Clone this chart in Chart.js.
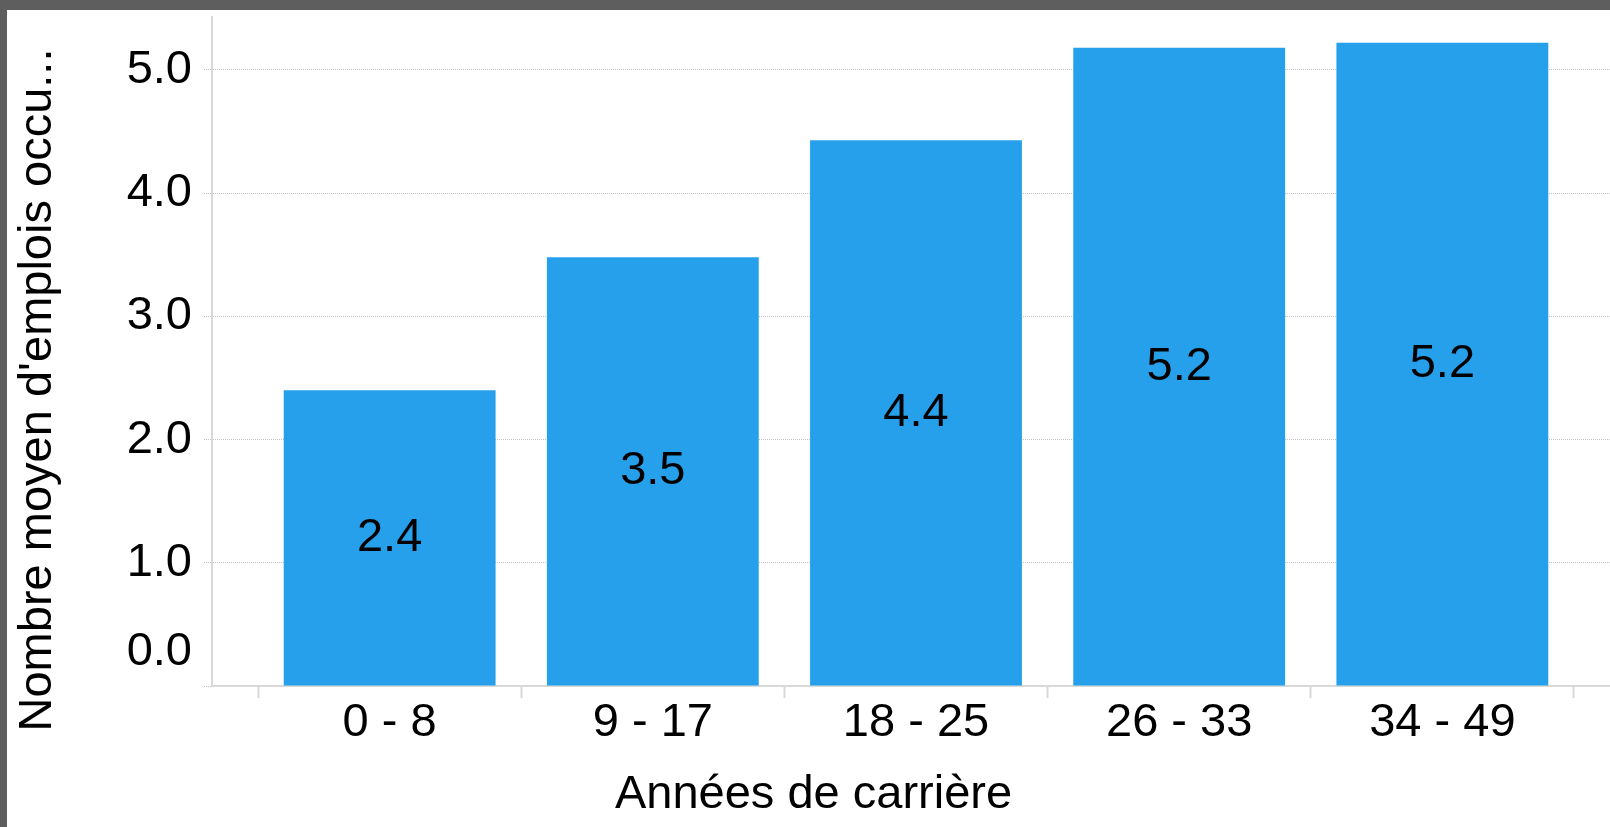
<!DOCTYPE html>
<html><head><meta charset="utf-8">
<script src="https://cdn.jsdelivr.net/npm/chart.js@4/dist/chart.umd.min.js"></script>
<style>
html,body{margin:0;padding:0;background:#5e5e5e;overflow:hidden;width:1610px;height:827px;}
#wrap{position:absolute;left:7px;top:10px;width:1618px;height:817px;background:#fff;}
canvas{display:block;}
</style></head><body>
<div id="wrap"><canvas id="c" width="1618" height="817"></canvas></div>
<script>
const categories = ['0 - 8', '9 - 17', '18 - 25', '26 - 33', '34 - 49'];
const values = [2.40, 3.48, 4.43, 5.18, 5.22];
const yTicks = [0, 1, 2, 3, 4, 5];
const yTitle = "Nombre moyen d'emplois occu...";
const xTitle = 'Années de carrière';

const FONT = '"Liberation Sans", Arial, sans-serif';
const SIZE = 47;

const customText = {
  id: 'customText',
  afterDatasetsDraw(chart) {
    const ctx = chart.ctx;
    const meta = chart.getDatasetMeta(0);
    ctx.save();
    ctx.font = SIZE + 'px ' + FONT;
    ctx.fillStyle = '#000';
    ctx.textAlign = 'center';
    ctx.textBaseline = 'middle';
    meta.data.forEach((bar, i) => {
      const p = bar.getCenterPoint();
      ctx.fillText(values[i].toFixed(1), p.x, p.y);
    });
    ctx.restore();
  },
  afterDraw(chart) {
    const ctx = chart.ctx;
    ctx.save();
    ctx.font = SIZE + 'px ' + FONT;
    ctx.fillStyle = '#000';
    ctx.textAlign = 'center';
    ctx.textBaseline = 'alphabetic';
    ctx.translate(44, 380);
    ctx.rotate(-Math.PI / 2);
    ctx.fillText(yTitle, 0, 0);
    ctx.restore();
  }
};

new Chart(document.getElementById('c'), {
  type: 'bar',
  data: {
    datasets: [{
      data: values.map((v, i) => ({ x: i, y: v })),
      backgroundColor: '#26a0ea',
      borderWidth: 0,
      barPercentage: 0.805,
      categoryPercentage: 1
    }]
  },
  options: {
    responsive: false,
    animation: false,
    devicePixelRatio: 1,
    layout: { padding: { top: 7, right: 5, bottom: 0, left: 0 } },
    plugins: {
      legend: { display: false },
      tooltip: { enabled: false },
      title: {
        display: true,
        position: 'bottom',
        text: xTitle,
        color: '#000',
        font: { family: FONT, size: SIZE, weight: 'normal', lineHeight: 1.2 },
        padding: { top: 0, bottom: 4 }
      }
    },
    scales: {
      x: {
        type: 'linear',
        offset: false,
        min: -0.675,
        max: 4.675,
        afterBuildTicks: (s) => { s.ticks = categories.map((c, i) => ({ value: i })); },
        afterFit: (s) => { s.height = 80.6; s.paddingLeft = 0; s.paddingRight = 0; },
        ticks: {
          callback: (v) => categories[v],
          color: '#000',
          font: { family: FONT, size: SIZE, lineHeight: 1 },
          padding: 2,
          maxRotation: 0,
          autoSkip: false
        },
        grid: {
          offset: true,
          drawOnChartArea: false,
          drawTicks: true,
          tickLength: 12,
          tickColor: '#d9d9d9',
          tickWidth: 2,
          color: '#d9d9d9'
        },
        border: { color: '#d9d9d9', width: 2 }
      },
      y: {
        min: 0,
        max: 5.43,
        afterBuildTicks: (s) => { s.ticks = yTicks.map(v => ({ value: v })); },
        afterFit: (s) => { s.width = 205; s.paddingTop = 0; s.paddingBottom = 0; },
        ticks: {
          callback: (v) => v === 0 ? [Number(v).toFixed(1), ''] : Number(v).toFixed(1),
          color: '#000',
          font: { family: FONT, size: SIZE, lineHeight: 1.45 },
          padding: 12,
          autoSkip: false
        },
        grid: {
          color: '#c4c4c4',
          lineWidth: 1,
          tickLength: 8,
          tickColor: '#c4c4c4',
          tickBorderDash: [1, 1]
        },
        border: { color: '#d9d9d9', width: 2, dash: [1, 1] }
      }
    }
  },
  plugins: [customText]
});
</script>
</body></html>
